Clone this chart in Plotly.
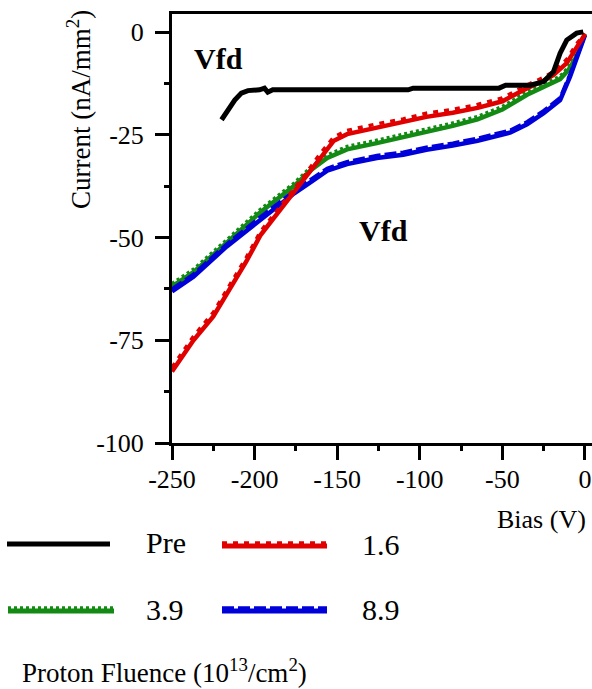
import plotly.graph_objects as go

# ---------------- data ----------------
pre_v = [-220, -216, -212, -208, -204, -197, -194, -192, -189, -107, -104, -52, -48, -33, -25, -19, -15, -11, -5, -1]
pre_i = [-21.3, -18.9, -16.5, -14.8, -14.2, -14.0, -13.6, -14.6, -14.0, -14.0, -13.6, -13.6, -12.9, -12.9, -12.0, -9.6, -5.1, -1.9, -0.2, 0.1]

f16_v = [-250, -237, -225, -215, -205, -196.6, -180, -170, -160, -152, -144, -126, -110, -96, -80, -65, -50, -35, -25, -19, -11, -5, 0]
f16_i = [-82.6, -75.0, -69.2, -62.5, -55.8, -49.5, -40.8, -35.9, -30.3, -26.4, -24.8, -23.2, -22.0, -20.6, -19.6, -18.4, -16.8, -13.6, -11.8, -10.4, -7.5, -3.5, -0.5]
f16b_i = [-81.6, -74.0, -68.2, -61.5, -54.8, -48.6, -39.9, -35.0, -29.4, -25.5, -23.9, -22.3, -21.1, -19.7, -18.8, -17.6, -16.0, -12.8, -11.0, -9.6, -6.6, -2.8, -0.3]

f39_v = [-250, -237, -217, -197, -176, -166, -156, -144, -126, -110, -96, -80, -65, -50, -35, -25, -15, -10, -5, 0]
f39_i = [-61.9, -58.4, -51.3, -44.0, -37.4, -33.6, -30.6, -28.5, -27.0, -25.6, -24.2, -22.8, -21.2, -18.8, -15.2, -13.3, -11.4, -9.2, -5.9, -0.5]
f39b_i = [-61.2, -57.7, -50.6, -43.3, -36.7, -32.9, -29.9, -27.8, -26.3, -24.9, -23.5, -22.1, -20.5, -18.1, -14.5, -12.6, -10.7, -8.5, -5.2, -0.3]

f89_v = [-250, -237, -217, -197, -176, -166, -156, -144, -126, -110, -96, -80, -65, -45, -35, -25, -15, -9, -3, 0]
f89_i = [-63.1, -59.5, -52.2, -45.7, -39.2, -36.5, -33.7, -32.1, -30.6, -29.8, -28.6, -27.6, -26.4, -24.4, -22.4, -19.7, -16.5, -10.8, -4.3, -0.7]
f89b_i = [-62.5, -58.9, -51.6, -45.1, -38.6, -35.9, -33.1, -31.5, -30.0, -29.2, -28.0, -27.0, -25.8, -23.8, -21.8, -19.1, -15.9, -10.2, -3.7, -0.4]

x_ticks = [-250, -200, -150, -100, -50, 0]
y_ticks = [0, -25, -50, -75, -100]
legend_labels = ["Pre", "1.6", "3.9", "8.9"]

# ---------------- layout geometry ----------------
W, H = 592, 689
L, R, T, B = 172, 592, 14, 443   # plot area in pixels

def px(x):
    return (x - L) / (R - L)

def py(y):
    return (B - y) / (B - T)

FONT = "Liberation Serif, Times New Roman, Times, serif"
BLACK, RED, GREEN, BLUE = "#000000", "#e00000", "#138a13", "#0000d8"

fig = go.Figure()

def add_pair(v, i_solid, i_dash, color, dash):
    fig.add_trace(go.Scatter(x=v, y=i_dash, mode="lines",
                             line=dict(color=color, width=3.5, dash=dash),
                             showlegend=False, hoverinfo="skip"))
    fig.add_trace(go.Scatter(x=v, y=i_solid, mode="lines",
                             line=dict(color=color, width=4.5),
                             showlegend=False))

add_pair(f39_v, f39_i, f39b_i, GREEN, "3px,3px")
add_pair(f89_v, f89_i, f89b_i, BLUE, "12px,4px")
add_pair(f16_v, f16_i, f16b_i, RED, "5px,6px")
fig.add_trace(go.Scatter(x=pre_v, y=pre_i, mode="lines",
                         line=dict(color=BLACK, width=5), showlegend=False))

axis_common = dict(showgrid=False, zeroline=False, showline=True, linecolor="black",
                   linewidth=3, ticks="outside", ticklen=14, tickwidth=3, tickcolor="black",
                   automargin=False,
                   tickfont=dict(family=FONT, size=26, color="black"))

fig.update_xaxes(range=[-250, 4.3], tickvals=x_ticks, ticktext=[str(t) for t in x_ticks],
                 mirror=True, ticklabelstandoff=-3,
                 minor=dict(tickvals=[-225, -175, -125, -75, -25], ticklen=5, tickwidth=3,
                            tickcolor="black", ticks="outside"),
                 **axis_common)
fig.update_yaxes(range=[-100, 4.45], tickvals=y_ticks, ticktext=[str(t) for t in y_ticks],
                 ticklabelstandoff=6,
                 minor=dict(tickvals=[-12.5, -37.5, -62.5, -87.5], ticklen=5, tickwidth=3,
                            tickcolor="black", ticks="outside"),
                 **axis_common)

annotations = [
    dict(text="<b>Vfd</b>", x=-222, y=-6.5, xref="x", yref="y", showarrow=False,
         font=dict(family=FONT, size=30, color="black")),
    dict(text="<b>Vfd</b>", x=-122, y=-48.3, xref="x", yref="y", showarrow=False,
         font=dict(family=FONT, size=30, color="black")),
    dict(text="Bias (V)", x=px(588), y=py(519), xref="paper", yref="paper",
         xanchor="right", yanchor="middle", showarrow=False,
         font=dict(family=FONT, size=26, color="black")),
    dict(text="Current (nA/mm<sup>2</sup>)", x=px(79), y=py(110), xref="paper", yref="paper",
         textangle=-90, xanchor="center", yanchor="middle", showarrow=False,
         font=dict(family=FONT, size=27, color="black")),
    dict(text="Proton Fluence (10<sup>13</sup>/cm<sup>2</sup>)", x=px(20), y=py(671),
         xref="paper", yref="paper", xanchor="left", yanchor="middle", showarrow=False,
         font=dict(family=FONT, size=27, color="black")),
]

# manual legend
leg_items = [
    (legend_labels[0], BLACK, None, 7, 110, 544, 144),
    (legend_labels[1], RED, "5px,6px", 222, 327, 546, 360),
    (legend_labels[2], GREEN, "3px,3px", 8, 114, 611, 144),
    (legend_labels[3], BLUE, "12px,4px", 222, 327, 611, 360),
]
shapes = []
for lab, col, dash, x0, x1, yl, xt in leg_items:
    if dash:
        shapes.append(dict(type="line", xref="paper", yref="paper",
                           x0=px(x0), x1=px(x1), y0=py(yl - 3), y1=py(yl - 3),
                           line=dict(color=col, width=3.5, dash=dash)))
    shapes.append(dict(type="line", xref="paper", yref="paper",
                       x0=px(x0), x1=px(x1), y0=py(yl), y1=py(yl),
                       line=dict(color=col, width=5)))
    annotations.append(dict(text=lab, x=px(xt), y=py(yl - 2), xref="paper", yref="paper",
                            xanchor="left", yanchor="middle", showarrow=False,
                            font=dict(family=FONT, size=30, color="black")))

fig.update_layout(width=W, height=H, margin=dict(l=L, r=W - R, t=T, b=H - B),
                  plot_bgcolor="white", paper_bgcolor="white",
                  annotations=annotations, shapes=shapes, showlegend=False,
                  font=dict(family=FONT))

fig.write_html("out.html", post_script="document.body.style.margin='0';",
               config={"displayModeBar": False})
